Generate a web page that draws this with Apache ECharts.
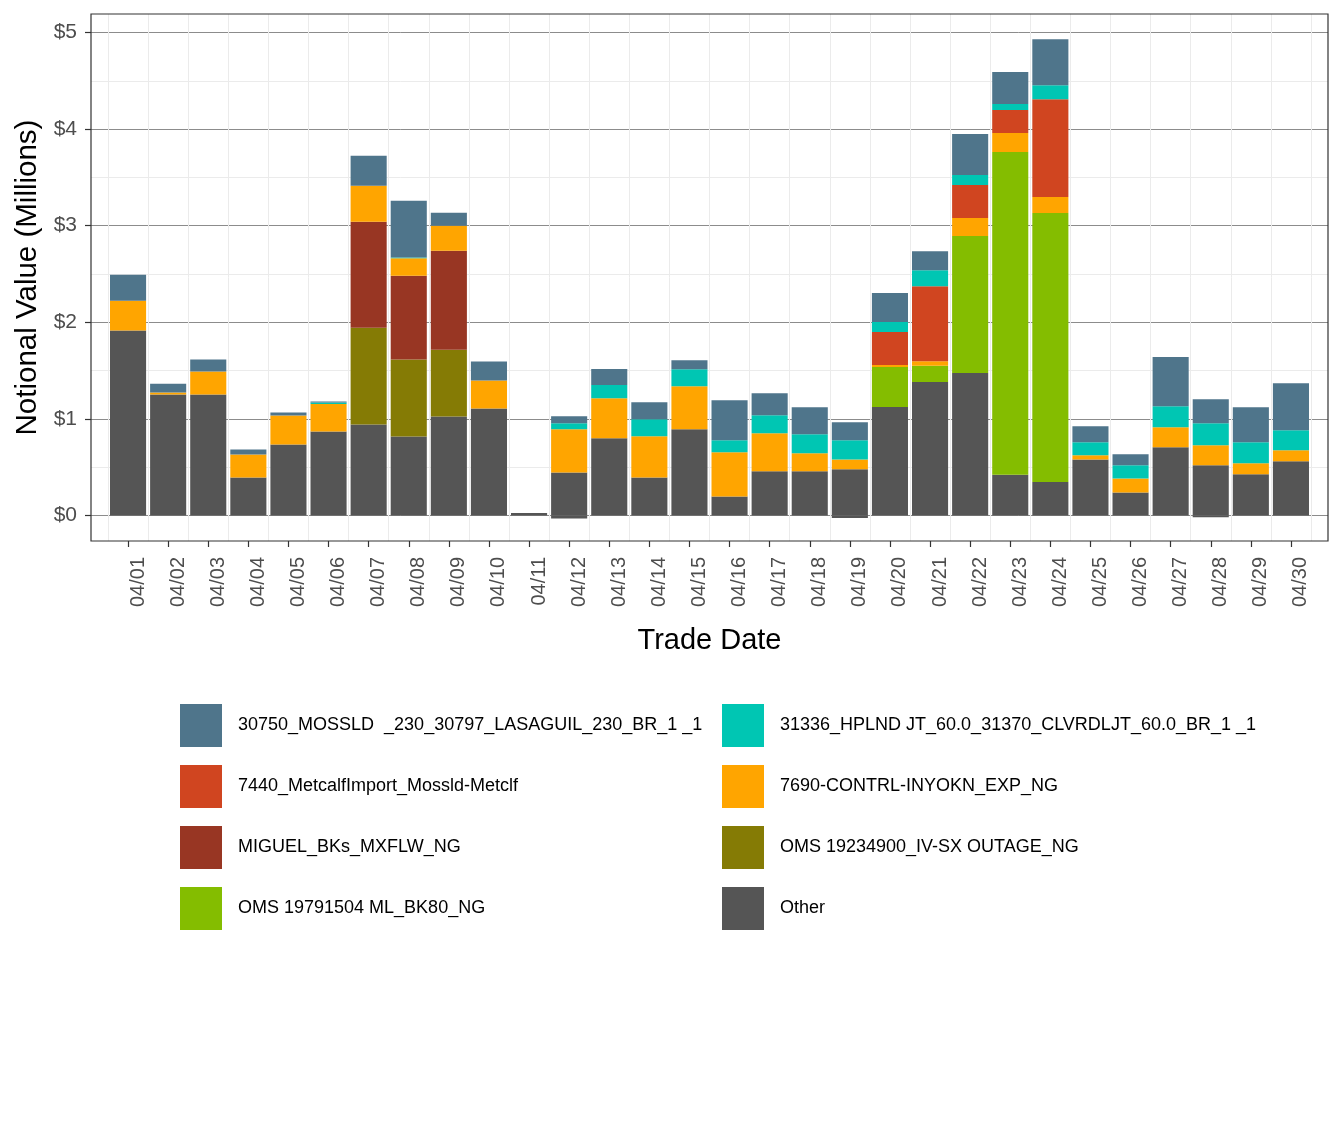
<!DOCTYPE html>
<html>
<head>
<meta charset="utf-8">
<title>Notional Value by Trade Date</title>
<script src="https://cdn.jsdelivr.net/npm/echarts@6.0.0/dist/echarts.min.js"></script>
<style>
  html, body { margin: 0; padding: 0; background: #ffffff; }
  #chart { width: 1344px; height: 1142px; }
</style>
</head>
<body>
<div id="chart"></div>
<script>
// Trade dates (x categories)
const tradeDates = [
  '04/01', '04/02', '04/03', '04/04', '04/05', '04/06', '04/07', '04/08', '04/09', '04/10',
  '04/11', '04/12', '04/13', '04/14', '04/15', '04/16', '04/17', '04/18', '04/19', '04/20',
  '04/21', '04/22', '04/23', '04/24', '04/25', '04/26', '04/27', '04/28', '04/29', '04/30'
]

// Notional value per constraint, millions of $
const otherValues = [
  1.914, 1.252, 1.252, 0.393, 0.734, 0.869, 0.941, 0.817, 1.024, 1.107,
  0.025, 0.446, 0.799, 0.394, 0.893, 0.197, 0.457, 0.457, 0.478, 1.122,
  1.382, 1.476, 0.421, 0.348, 0.581, 0.239, 0.706, 0.519, 0.426, 0.561
]
// small negative part of "Other", stacked below zero
const otherNegValues = [
  0, 0, 0, 0, 0, 0, 0, 0, 0, 0,
  0, -0.03, 0, 0, 0, 0, 0, 0, -0.025, 0,
  0, 0, 0, 0, 0, 0, 0, -0.017, 0, 0
]
const oms19791504Values = [
  0, 0, 0, 0, 0, 0, 0, 0, 0, 0,
  0, 0, 0, 0, 0, 0, 0, 0, 0, 0.416,
  0.168, 1.417, 3.341, 2.783, 0, 0, 0, 0, 0, 0
]
const oms19234900Values = [
  0, 0, 0, 0, 0, 0, 1.003, 0.797, 0.693, 0,
  0, 0, 0, 0, 0, 0, 0, 0, 0, 0,
  0, 0, 0, 0, 0, 0, 0, 0, 0, 0
]
const miguelValues = [
  0, 0, 0, 0, 0, 0, 1.097, 0.869, 1.024, 0,
  0, 0, 0, 0, 0, 0, 0, 0, 0, 0,
  0, 0, 0, 0, 0, 0, 0, 0, 0, 0
]
const contrl7690Values = [
  0.31, 0.02, 0.238, 0.238, 0.30, 0.286, 0.372, 0.179, 0.259, 0.29,
  0, 0.447, 0.416, 0.426, 0.446, 0.457, 0.394, 0.187, 0.103, 0.021,
  0.048, 0.186, 0.197, 0.166, 0.042, 0.145, 0.208, 0.208, 0.114, 0.114
]
const metcalf7440Values = [
  0, 0, 0, 0, 0, 0, 0, 0, 0, 0,
  0, 0, 0, 0, 0, 0, 0, 0, 0, 0.341,
  0.776, 0.342, 0.238, 1.013, 0, 0, 0, 0, 0, 0
]
const hplnd31336Values = [
  0, 0, 0, 0, 0, 0.014, 0, 0.01, 0, 0,
  0, 0.062, 0.135, 0.176, 0.176, 0.125, 0.187, 0.197, 0.198, 0.103,
  0.165, 0.103, 0.062, 0.145, 0.135, 0.135, 0.218, 0.228, 0.218, 0.207
]
const mossld30750Values = [
  0.269, 0.093, 0.124, 0.052, 0.031, 0.01, 0.31, 0.587, 0.134, 0.196,
  0, 0.073, 0.166, 0.176, 0.093, 0.415, 0.228, 0.28, 0.186, 0.30,
  0.197, 0.424, 0.331, 0.476, 0.166, 0.114, 0.509, 0.249, 0.363, 0.488
]

// Y tick values
const yTicks = [0, 1, 2, 3, 4, 5]

// Legend columns (ggplot order, filled row by row)
const legendLeft = [
  '30750_MOSSLD  _230_30797_LASAGUIL_230_BR_1 _1',
  '7440_MetcalfImport_Mossld-Metclf',
  'MIGUEL_BKs_MXFLW_NG',
  'OMS 19791504 ML_BK80_NG'
]
const legendRight = [
  '31336_HPLND JT_60.0_31370_CLVRDLJT_60.0_BR_1 _1',
  '7690-CONTRL-INYOKN_EXP_NG',
  'OMS 19234900_IV-SX OUTAGE_NG',
  'Other'
]

const fontFamily = '"Liberation Sans", Arial, Helvetica, sans-serif'

// Stack order: bottom -> top
const layers = [
  { name: 'Other', data: otherValues, color: '#555555' },
  { name: 'Other (below zero)', data: otherNegValues, color: '#555555' },
  { name: 'OMS 19791504 ML_BK80_NG', data: oms19791504Values, color: '#84bd00' },
  { name: 'OMS 19234900_IV-SX OUTAGE_NG', data: oms19234900Values, color: '#857b05' },
  { name: 'MIGUEL_BKs_MXFLW_NG', data: miguelValues, color: '#983623' },
  { name: '7690-CONTRL-INYOKN_EXP_NG', data: contrl7690Values, color: '#ffa500' },
  { name: '7440_MetcalfImport_Mossld-Metclf', data: metcalf7440Values, color: '#d04520' },
  { name: '31336_HPLND JT_60.0_31370_CLVRDLJT_60.0_BR_1 _1', data: hplnd31336Values, color: '#00c6b3' },
  { name: '30750_MOSSLD  _230_30797_LASAGUIL_230_BR_1 _1', data: mossld30750Values, color: '#4f758b' }
]

// pixel scale: $0 at y=515.5, $5 at y=32.5, panel 14..541
const pxPerUnit = (515.5 - 32.5) / 5
const yMin = -(541 - 515.5) / pxPerUnit
const yMax = 5 + (32.5 - 14) / pxPerUnit

const chart = echarts.init(document.getElementById('chart'), null, { renderer: 'canvas' })

const legendBase = {
  orient: 'vertical',
  top: 704,
  padding: 0,
  itemWidth: 42,
  itemHeight: 43,
  itemGap: 18,
  icon: 'rect',
  selectedMode: false,
  textStyle: { fontSize: 18, color: '#000000', fontFamily: fontFamily, padding: [0, 0, 0, 11] }
}

const option = {
  backgroundColor: '#ffffff',
  animation: false,
  textStyle: { fontFamily: fontFamily },
  grid: [
    // bars
    { left: 108, right: 33, top: 14, bottom: 1142 - 541 },
    // y scale from $0 to $5
    { left: 91, right: 16, top: 32.5, bottom: 1142 - 515.5 },
    // panel border
    { left: 91, right: 16, top: 14, bottom: 1142 - 541, show: true, borderColor: '#333333', borderWidth: 1.2, backgroundColor: 'transparent', z: 5 }
  ],
  legend: [
    Object.assign({}, legendBase, { left: 180, data: legendLeft }),
    Object.assign({}, legendBase, { left: 722, data: legendRight })
  ],
  xAxis: [
    {
      gridIndex: 0,
      type: 'category',
      data: tradeDates,
      axisLine: { show: false, onZero: false },
      axisTick: { show: true, alignWithLabel: true, length: 6, lineStyle: { color: '#333333', width: 1.2 } },
      axisLabel: {
        interval: 0,
        rotate: 90,
        verticalAlign: 'top',
        margin: 16,
        fontSize: 20,
        color: '#4d4d4d',
        fontFamily: fontFamily
      },
      splitLine: { show: true, lineStyle: { color: '#ebebeb', width: 1 } },
      name: 'Trade Date',
      nameLocation: 'middle',
      nameGap: 85,
      nameTextStyle: { fontSize: 29, color: '#000000', fontFamily: fontFamily }
    },
    { gridIndex: 1, type: 'value', show: false },
    { gridIndex: 2, type: 'value', show: false }
  ],
  yAxis: [
    { gridIndex: 0, type: 'value', min: yMin, max: yMax, show: false },
    {
      gridIndex: 1,
      type: 'value',
      min: yTicks[0],
      max: yTicks[yTicks.length - 1],
      interval: 1,
      axisLine: { show: false },
      axisTick: { show: true, length: 6, lineStyle: { color: '#333333', width: 1.2 } },
      axisLabel: {
        formatter: v => '$' + v,
        fontSize: 21,
        color: '#4d4d4d',
        margin: 14,
        fontFamily: fontFamily
      },
      splitLine: { show: true, lineStyle: { color: '#8c8c8c', width: 1 } },
      minorTick: { show: false, splitNumber: 2 },
      minorSplitLine: { show: true, lineStyle: { color: '#ebebeb', width: 1 } }
    },
    {
      gridIndex: 2,
      type: 'value',
      axisLine: { show: false },
      axisTick: { show: false },
      axisLabel: { show: false },
      splitLine: { show: false },
      name: 'Notional Value (Millions)',
      nameLocation: 'middle',
      nameGap: 48,
      nameTextStyle: { fontSize: 29.5, color: '#000000', fontFamily: fontFamily }
    }
  ],
  series: layers.map(layer => ({
    name: layer.name,
    type: 'bar',
    stack: 'total',
    xAxisIndex: 0,
    yAxisIndex: 0,
    barWidth: '90%',
    data: layer.data,
    itemStyle: { color: layer.color },
    emphasis: { disabled: true }
  }))
}

chart.setOption(option)
</script>
</body>
</html>
